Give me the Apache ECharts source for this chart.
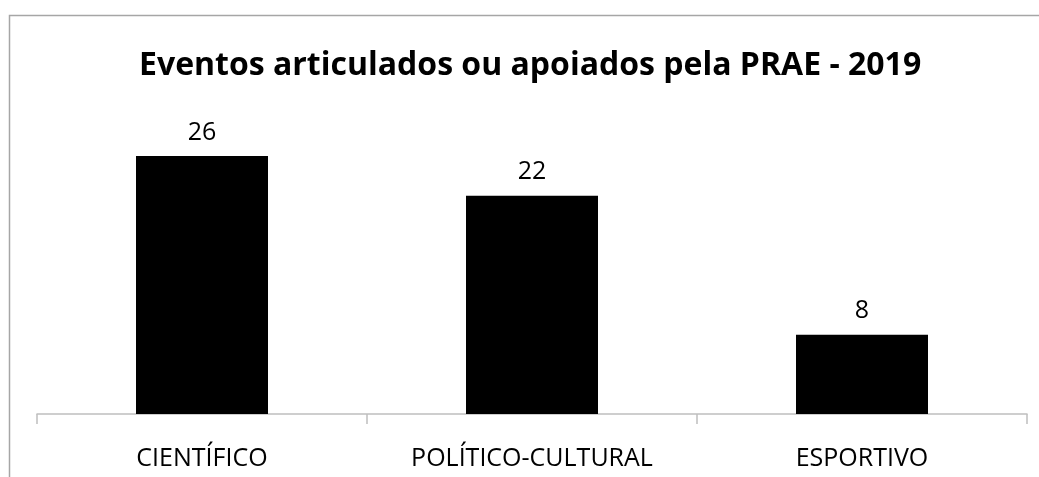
<!DOCTYPE html>
<html>
<head>
<meta charset="utf-8">
<script src="https://cdn.jsdelivr.net/npm/echarts@6/dist/echarts.min.js"></script>
<style>
html,body{margin:0;padding:0;background:#fff;}
#chart{width:1039px;height:477px;}
</style>
</head>
<body>
<div id="chart"></div>
<script>
const titleText = 'Eventos articulados ou apoiados pela PRAE - 2019';
const categories = ['CIENTÍFICO', 'POLÍTICO-CULTURAL', 'ESPORTIVO'];
const values = [26, 22, 8];

const chart = echarts.init(document.getElementById('chart'), null, {renderer: 'canvas'});
chart.setOption({
  animation: false,
  backgroundColor: '#ffffff',
  title: {
    text: titleText,
    left: 134,
    top: 45,
    textStyle: {fontFamily: 'Open Sans', fontWeight: 'bold', fontSize: 32, color: '#000'}
  },
  graphic: [{
    type: 'rect',
    shape: {x: 9.5, y: 15.5, width: 1200, height: 600},
    style: {fill: 'none', stroke: '#a6a6a6', lineWidth: 1.5},
    silent: true
  }],
  grid: {left: 37, right: 12, top: 116.4, bottom: 63},
  xAxis: {
    type: 'category',
    data: categories,
    axisLine: {lineStyle: {color: '#bfbfbf', width: 1.5}},
    axisTick: {show: true, length: 10, alignWithLabel: false, lineStyle: {color: '#bfbfbf', width: 1.5}},
    axisLabel: {color: '#000', fontFamily: 'Open Sans', fontSize: 25, margin: 32}
  },
  yAxis: {
    type: 'value',
    min: 0,
    max: 30,
    show: false,
    splitLine: {show: false}
  },
  series: [{
    type: 'bar',
    data: values,
    barWidth: '40%',
    itemStyle: {color: '#000'},
    label: {show: true, position: 'top', distance: 11, color: '#000', fontFamily: 'Open Sans', fontSize: 25}
  }]
});
</script>
</body>
</html>
